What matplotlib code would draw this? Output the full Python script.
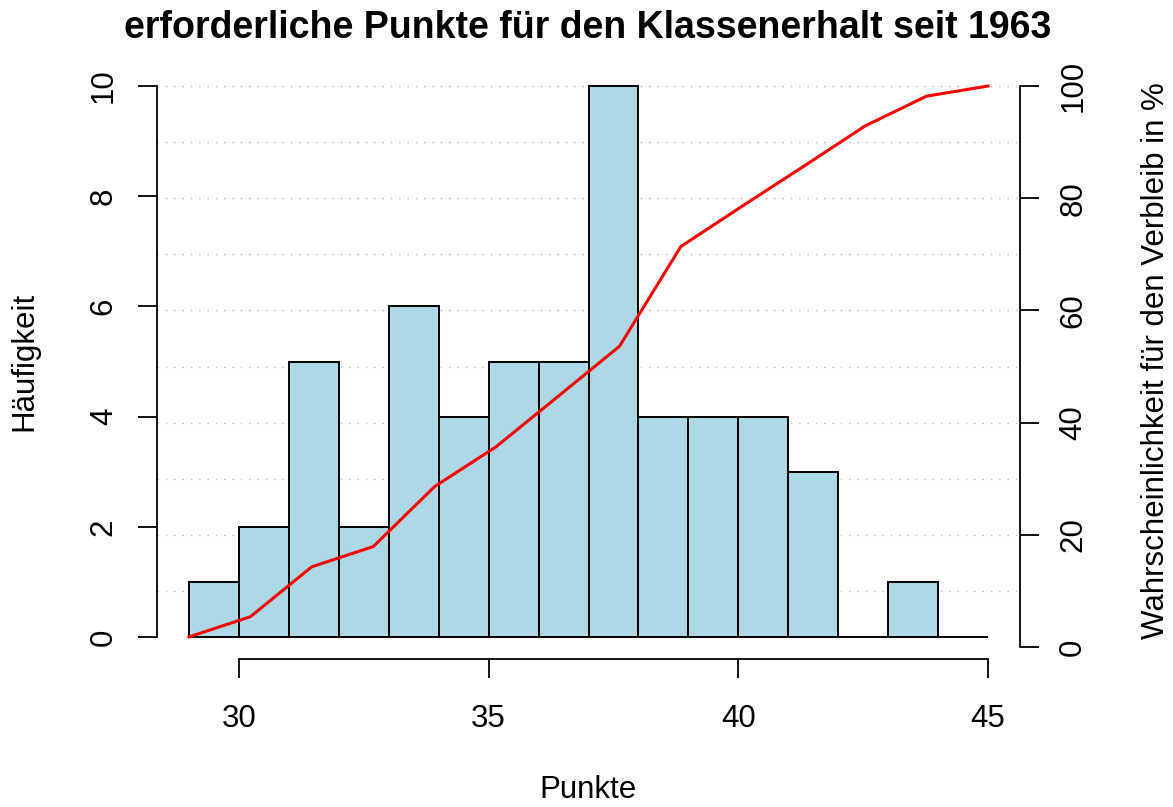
import matplotlib
matplotlib.use("Agg")
import matplotlib.pyplot as plt
from matplotlib.transforms import blended_transform_factory

plt.rcParams['font.family'] = ['Liberation Sans', 'DejaVu Sans']

# histogram: points needed to stay up, bins of width 1
bin_edges = [29, 30, 31, 32, 33, 34, 35, 36, 37, 38, 39, 40, 41, 42, 43, 44, 45]
counts = [1, 2, 5, 2, 6, 4, 5, 5, 10, 4, 4, 4, 3, 0, 1, 0]

# cumulative probability of staying up (%)
line_x = [29, 30.23, 31.46, 32.69, 33.92, 35.15, 36.38, 37.62, 38.85, 40.08,
          41.31, 42.54, 43.77, 45]
line_pct = [1.8, 5.4, 14.3, 17.9, 28.6, 35.7, 44.6, 53.6, 71.4, 78.6,
            85.7, 92.9, 98.2, 100.0]

x_ticks = [30, 35, 40, 45]
count_ticks = [0, 2, 4, 6, 8, 10]
pct_ticks = [0, 20, 40, 60, 80, 100]
grid_pct = [10, 20, 30, 40, 50, 60, 70, 80, 90, 100]

W, H = 1173, 807
fig = plt.figure(figsize=(W / 100, H / 100), dpi=100)
ax = fig.add_axes([157 / W, (H - 659) / H, (1020 - 157) / W, (659 - 64) / H])
ax2 = ax.twinx()

ax.set_xlim(28.36, 45.64)
ax.set_ylim(-0.4, 10.4)
ax2.set_ylim(-2.14, 103.93)

# dotted grid (right axis scale) behind the bars
trans = blended_transform_factory(ax.transAxes, ax2.transData)
ax.hlines(grid_pct, 0, 1, transform=trans, colors='#BEBEBE',
          linestyles=(0, (1, 5)), linewidth=1, zorder=0)

ax.bar(bin_edges[:-1], counts, width=1, align='edge', color='#ADD8E6',
       edgecolor='black', linewidth=1.4, zorder=2)

ax2.plot(line_x, line_pct, color='red', linewidth=2.2, zorder=3)

# R-like axes
for a in (ax, ax2):
    for s in a.spines.values():
        s.set_visible(False)
    a.tick_params(direction='out', length=13.5, width=1.3, labelsize=22.5, pad=14)
ax.tick_params(axis='x', pad=19)

ax.spines['left'].set_visible(True)
ax.spines['left'].set_bounds(0, 10)
ax.spines['bottom'].set_visible(True)
ax.spines['bottom'].set_bounds(30, 45)
ax2.spines['right'].set_visible(True)
ax2.spines['right'].set_bounds(0, 100)
for s in (ax.spines['left'], ax.spines['bottom'], ax2.spines['right']):
    s.set_linewidth(1.3)

ax.set_xticks(x_ticks)
ax.set_yticks(count_ticks)
ax2.set_yticks(pct_ticks)
plt.setp(ax.get_yticklabels(), rotation=90, va='center')
plt.setp(ax2.get_yticklabels(), rotation=90, va='center')

fig.text(588 / W, 1 - 28 / H, 'erforderliche Punkte für den Klassenerhalt seit 1963',
         ha='center', va='center', fontsize=27, fontweight='bold')
fig.text(588 / W, 1 - 790 / H, 'Punkte', ha='center', va='center', fontsize=22.5)
fig.text(24 / W, 1 - 361 / H, 'Häufigkeit', ha='center', va='center',
         rotation=90, fontsize=22.5)
fig.text(1156 / W, 1 - 361 / H, 'Wahrscheinlichkeit für den Verbleib in %',
         ha='center', va='center', rotation=90, fontsize=22.5)

fig.savefig('out.png', dpi=100)
